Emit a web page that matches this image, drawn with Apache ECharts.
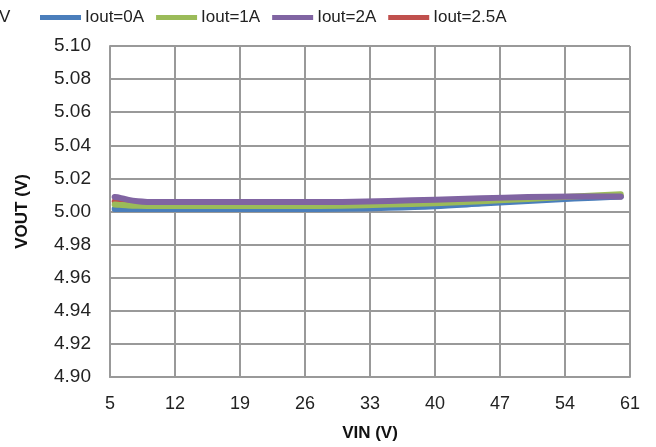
<!DOCTYPE html>
<html>
<head>
<meta charset="utf-8">
<script src="https://cdn.jsdelivr.net/npm/echarts@6/dist/echarts.min.js"></script>
<style>
  html, body { margin: 0; padding: 0; background: #fff; }
  #chart { width: 656px; height: 447px; }
</style>
</head>
<body>
<div id="chart"></div>
<script>
// Input voltage sweep points (V)
const vin = [5.5, 6, 7, 8, 9, 10, 12, 15, 20, 25, 30, 35, 40, 45, 50, 55, 60];

// Output voltage (V) per load current
const vout0A   = [5.0015, 5.0015, 5.0015, 5.0015, 5.0015, 5.0015, 5.0015, 5.0015, 5.0015, 5.0015, 5.0016, 5.0022, 5.0032, 5.0048, 5.0064, 5.0078, 5.0090];
const vout1A   = [5.0042, 5.0040, 5.0036, 5.0034, 5.0033, 5.0033, 5.0033, 5.0033, 5.0033, 5.0033, 5.0035, 5.0042, 5.0050, 5.0062, 5.0076, 5.0090, 5.0104];
const vout2A   = [5.0088, 5.0084, 5.0070, 5.0062, 5.0058, 5.0057, 5.0057, 5.0057, 5.0057, 5.0057, 5.0058, 5.0064, 5.0071, 5.0080, 5.0087, 5.0090, 5.0091];
const vout2p5A = [5.0062, 5.0058, 5.0050, 5.0046, 5.0045, 5.0045, 5.0045, 5.0045, 5.0045, 5.0045, 5.0047, 5.0053, 5.0062, 5.0072, 5.0082, 5.0088, 5.0090];

const xTicksStart = 5;   // first VIN tick label
const xTickStep = 7;
const xTickEnd = 61;

const seriesNames = ['Iout=0A', 'Iout=1A', 'Iout=2A', 'Iout=2.5A'];
const seriesColors = ['#4A7EBB', '#9BBB59', '#8064A2', '#C0504D'];
const seriesValues = [vout0A, vout1A, vout2A, vout2p5A];
// drawing order: 2.5A underneath, 2A on top
const seriesZ = [3, 4, 5, 2];

const font = 'Liberation Sans, Arial, sans-serif';

const chart = echarts.init(document.getElementById('chart'), null, { renderer: 'canvas' });

const series = seriesNames.map((name, i) => ({
  name,
  type: 'line',
  data: vin.map((x, k) => [x - xTicksStart, seriesValues[i][k]]),
  showSymbol: false,
  smooth: 0.3,
  z: seriesZ[i],
  lineStyle: { width: 6, color: seriesColors[i], cap: 'round', join: 'round' },
  itemStyle: { color: seriesColors[i] },
  emphasis: { disabled: true }
}));

chart.setOption({
  animation: false,
  backgroundColor: '#ffffff',
  textStyle: { fontFamily: font },
  graphic: [{
    type: 'text',
    left: -1,
    top: 9,
    style: { text: 'V', font: '17px ' + font, fill: '#222' }
  }],
  legend: {
    data: seriesNames,
    top: 4,
    left: 35,
    itemWidth: 41,
    itemHeight: 5,
    itemGap: 12,
    icon: 'rect',
    textStyle: { fontSize: 17, color: '#222', fontFamily: font, padding: [0, 0, 0, -1] }
  },
  grid: { left: 110, right: 26, top: 46, bottom: 65, containLabel: false },
  xAxis: {
    type: 'value',
    min: 0,
    max: xTickEnd - xTicksStart,
    interval: xTickStep,
    name: 'VIN (V)',
    nameLocation: 'middle',
    nameGap: 48,
    nameTextStyle: { fontSize: 17, fontWeight: 'bold', color: '#111', fontFamily: font },
    axisLine: { show: true, lineStyle: { color: '#999', width: 2 } },
    axisTick: { show: false },
    axisLabel: {
      margin: 18,
      fontSize: 18,
      color: '#222',
      fontFamily: font,
      formatter: v => String(v + xTicksStart)
    },
    splitLine: { show: true, lineStyle: { color: '#999', width: 2 } }
  },
  yAxis: {
    type: 'value',
    min: 4.9,
    max: 5.1,
    interval: 0.02,
    name: 'VOUT (V)',
    nameLocation: 'middle',
    nameGap: 79,
    nameRotate: 90,
    nameTextStyle: { fontSize: 17, fontWeight: 'bold', color: '#111', fontFamily: font },
    axisLine: { show: true, lineStyle: { color: '#999', width: 2 } },
    axisTick: { show: false },
    axisLabel: {
      margin: 19,
      fontSize: 19,
      color: '#222',
      fontFamily: font,
      formatter: v => v.toFixed(2)
    },
    splitLine: { show: true, lineStyle: { color: '#999', width: 2 } }
  },
  series
});
</script>
</body>
</html>
